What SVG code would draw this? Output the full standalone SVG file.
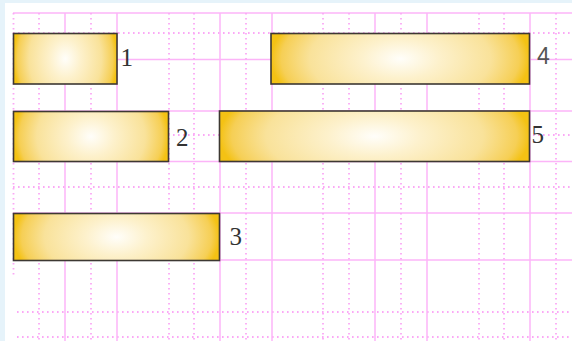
<svg xmlns="http://www.w3.org/2000/svg" width="572" height="341" viewBox="0 0 572 341">
  <defs>
    <radialGradient id="gold" cx="0.5" cy="0.5" r="0.5" gradientTransform="translate(0.5,0.5) scale(1,2.6) translate(-0.5,-0.5)">
      <stop offset="0" stop-color="#fffefa"/>
      <stop offset="0.3" stop-color="#fdf1cc"/>
      <stop offset="0.7" stop-color="#f9e29a"/>
      <stop offset="0.92" stop-color="#f6cf55"/>
      <stop offset="1" stop-color="#f4c214"/>
    </radialGradient>
    <style>
      .solid { stroke: #fcb4f8; stroke-width: 1.5; fill: none; }
      .dot { stroke: #fba8f6; stroke-width: 1.8; stroke-dasharray: 1.6 3.4; fill: none; }
      .bar { fill: url(#gold); stroke: #3d3833; stroke-width: 1.6; }
      .lbl { font-family: "Liberation Serif", "Times New Roman", serif; font-size: 25px; fill: #333333; }
      .lbl4 { font-family: "Liberation Sans", Arial, sans-serif; font-size: 23px; fill: #555555; }
    </style>
  </defs>
  <rect x="0" y="0" width="572" height="341" fill="#ffffff"/>
  <rect x="0" y="0" width="572" height="3" fill="#e6f3fa"/>
  <rect x="0" y="0" width="5" height="341" fill="#e6f3fa"/>

  <g id="grid">
    <line class="solid" x1="13" y1="13" x2="572" y2="13"/>
    <line class="solid" x1="13" y1="59.5" x2="572" y2="59.5"/>
    <line class="solid" x1="13" y1="111" x2="572" y2="111"/>
    <line class="solid" x1="13" y1="161.5" x2="572" y2="161.5"/>
    <line class="solid" x1="13" y1="213" x2="572" y2="213"/>
    <line class="solid" x1="13" y1="260" x2="572" y2="260"/>
    <line class="dot" x1="13" y1="33" x2="572" y2="33"/>
    <line class="dot" x1="13" y1="135" x2="572" y2="135"/>
    <line class="dot" x1="13" y1="187" x2="572" y2="187"/>
    <line class="dot" x1="17" y1="312" x2="572" y2="312"/>
    <line class="dot" x1="17" y1="337" x2="572" y2="337"/>
    <line class="solid" x1="65" y1="13" x2="65" y2="341"/>
    <line class="solid" x1="117" y1="13" x2="117" y2="341"/>
    <line class="solid" x1="220" y1="13" x2="220" y2="341"/>
    <line class="solid" x1="272" y1="13" x2="272" y2="341"/>
    <line class="solid" x1="375" y1="13" x2="375" y2="341"/>
    <line class="solid" x1="427" y1="13" x2="427" y2="341"/>
    <line class="solid" x1="530" y1="13" x2="530" y2="341"/>
    <line class="dot" x1="13.5" y1="13" x2="13.5" y2="275"/>
    <line class="dot" x1="39" y1="13" x2="39" y2="341"/>
    <line class="dot" x1="91" y1="13" x2="91" y2="341"/>
    <line class="dot" x1="169" y1="13" x2="169" y2="341"/>
    <line class="dot" x1="194" y1="13" x2="194" y2="341"/>
    <line class="dot" x1="246" y1="13" x2="246" y2="341"/>
    <line class="dot" x1="323" y1="13" x2="323" y2="341"/>
    <line class="dot" x1="349" y1="13" x2="349" y2="341"/>
    <line class="dot" x1="401" y1="13" x2="401" y2="341"/>
    <line class="dot" x1="479" y1="13" x2="479" y2="341"/>
    <line class="dot" x1="504" y1="13" x2="504" y2="341"/>
    <line class="dot" x1="556" y1="13" x2="556" y2="341"/>
  </g>

  <g id="connectors"/>

  <g id="node1">
    <rect class="bar" x="13.5" y="33.5" width="103.5" height="50.5"/>
    <text class="lbl" x="120.5" y="66">1</text>
  </g>
  <g id="node2">
    <rect class="bar" x="13.5" y="111.5" width="155" height="50"/>
    <text class="lbl" x="176" y="146">2</text>
  </g>
  <g id="node3">
    <rect class="bar" x="13.5" y="213.5" width="206" height="47"/>
    <text class="lbl" x="229.5" y="245">3</text>
  </g>
  <g id="node4">
    <rect class="bar" x="271" y="33.5" width="258.5" height="50.5"/>
    <text class="lbl4" x="537" y="64">4</text>
  </g>
  <g id="node5">
    <rect class="bar" x="219.5" y="111" width="310" height="50.5"/>
    <text class="lbl" x="531.5" y="143">5</text>
  </g>
</svg>
